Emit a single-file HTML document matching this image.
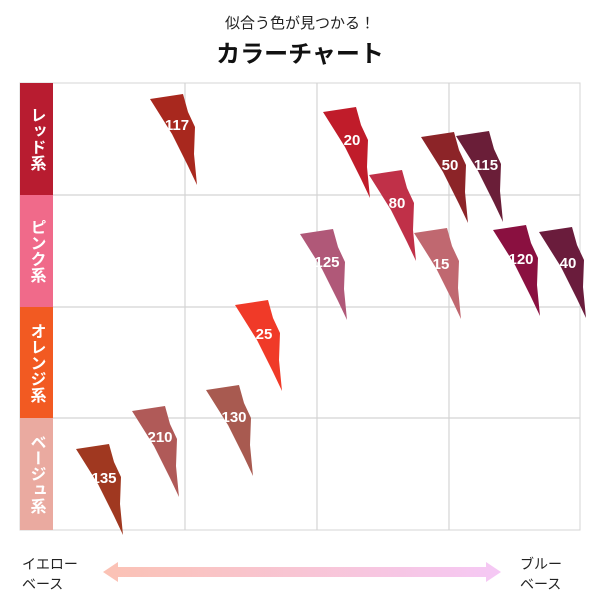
<!DOCTYPE html>
<html><head><meta charset="utf-8"><style>
html,body{margin:0;padding:0;background:#fff;}
body{width:600px;height:600px;overflow:hidden;font-family:"Liberation Sans","Noto Sans CJK JP",sans-serif;}
</style></head><body>
<svg width="600" height="600" viewBox="0 0 600 600" xmlns="http://www.w3.org/2000/svg" font-family="'Liberation Sans','Noto Sans CJK JP',sans-serif">
<defs>
<path id="sw" d="M0,5 L33,0 L38,18 L45,33 L44,60 L47,91 L38,72 L22,40 Z"/>
<linearGradient id="ag" x1="0" x2="1"><stop offset="0" stop-color="#fbc2b4"/><stop offset="1" stop-color="#f5c8f5"/></linearGradient>
</defs>
<text x="300" y="28" text-anchor="middle" font-size="15" fill="#222">似合う色が見つかる！</text>
<text x="300" y="62" text-anchor="middle" font-size="24" font-weight="bold" fill="#111">カラーチャート</text>
<rect x="20" y="83" width="560" height="447" fill="#fff" stroke="#d4d4d4"/>
<g stroke="#d4d4d4" stroke-width="1.2">
<line x1="185" y1="83" x2="185" y2="530"/><line x1="317" y1="83" x2="317" y2="530"/><line x1="449" y1="83" x2="449" y2="530"/>
<line x1="20" y1="195" x2="580" y2="195"/><line x1="20" y1="307" x2="580" y2="307"/><line x1="20" y1="418" x2="580" y2="418"/>
</g>
<rect x="20" y="83" width="33" height="112" fill="#b81c30"/>
<rect x="20" y="195" width="33" height="112" fill="#f06a8a"/>
<rect x="20" y="307" width="33" height="111" fill="#f25a22"/>
<rect x="20" y="418" width="33" height="112" fill="#eaaaa0"/>
<g fill="#fff" font-size="16" font-weight="bold" text-anchor="middle">
<text x="36" y="139" style="writing-mode:vertical-rl">レッド系</text>
<text x="36" y="251" style="writing-mode:vertical-rl">ピンク系</text>
<text x="36" y="363" style="writing-mode:vertical-rl">オレンジ系</text>
<text x="36" y="474" style="writing-mode:vertical-rl">ベージュ系</text>
</g>
<use href="#sw" x="150" y="94" fill="#a8281e"/>
<use href="#sw" x="323" y="107" fill="#c01c2a"/>
<use href="#sw" x="421" y="132" fill="#8c2428"/>
<use href="#sw" x="456" y="131" fill="#6a1e38"/>
<use href="#sw" x="369" y="170" fill="#c03048"/>
<use href="#sw" x="300" y="229" fill="#b05878"/>
<use href="#sw" x="414" y="228" fill="#c06870"/>
<use href="#sw" x="493" y="225" fill="#8a1040"/>
<use href="#sw" x="539" y="227" fill="#6a1c3c"/>
<use href="#sw" x="235" y="300" fill="#f03a28"/>
<use href="#sw" x="206" y="385" fill="#a85a50"/>
<use href="#sw" x="132" y="406" fill="#b05a58"/>
<use href="#sw" x="76" y="444" fill="#a03820"/>
<g fill="#fff" font-size="15" font-weight="bold" text-anchor="middle">
<text x="177" y="130">117</text>
<text x="352" y="145">20</text>
<text x="450" y="170">50</text>
<text x="486" y="170">115</text>
<text x="397" y="208">80</text>
<text x="327" y="267">125</text>
<text x="441" y="269">15</text>
<text x="521" y="264">120</text>
<text x="568" y="268">40</text>
<text x="264" y="339">25</text>
<text x="234" y="422">130</text>
<text x="160" y="442">210</text>
<text x="104" y="483">135</text>
</g>
<path d="M103,572 L118,562 L118,567 L486,567 L486,562 L501,572 L486,582 L486,577 L118,577 L118,582 Z" fill="url(#ag)"/>
<g font-size="14" fill="#222">
<text x="22" y="569">イエロー</text><text x="22" y="589">ベース</text>
<text x="520" y="569">ブルー</text><text x="520" y="589">ベース</text>
</g>
</svg>
</body></html>
